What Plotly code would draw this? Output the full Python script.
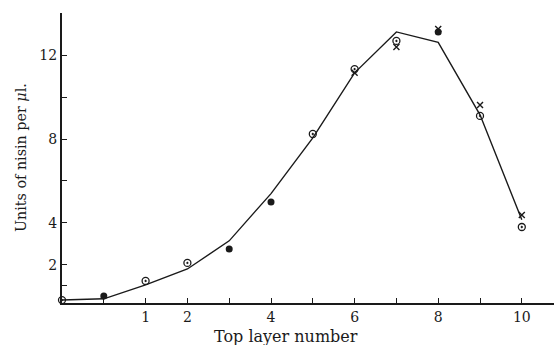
import plotly.graph_objects as go

# Top layer number (x = -1 is the origin point at the axis)
layers = [-1, 0, 1, 2, 3, 4, 5, 6, 7, 8, 9, 10]
curve_y = [0.33, 0.39, 1.05, 1.81, 3.15, 5.4, 8.05, 11.15, 13.1, 12.6, 9.15, 4.15]

open_x = [-1, 1, 2, 5, 6, 7, 9, 10]
open_y = [0.33, 1.24, 2.1, 8.24, 11.33, 12.67, 9.1, 3.81]

filled_x = [0, 3, 4, 8]
filled_y = [0.52, 2.76, 5.0, 13.1]

cross_x = [6, 7, 8, 9, 10]
cross_y = [11.15, 12.38, 13.24, 9.62, 4.38]

x_tickvals = [0, 1, 2, 3, 4, 5, 6, 7, 8, 9, 10]
x_ticktext = ["", "1", "2", "", "4", "", "6", "", "8", "", "10"]
y_tickvals = [1, 2, 4, 6, 8, 10, 12]
y_ticktext = ["", "2", "4", "", "8", "", "12"]

x_title = "Top layer number"
y_title = "Units of nisin per <i>μ</i>l."

ink = "#1a1a1a"
font = "DejaVu Serif"

fig = go.Figure()
fig.add_trace(go.Scatter(x=layers, y=curve_y, mode="lines",
                         line=dict(color=ink, width=1.4), cliponaxis=False))
fig.add_trace(go.Scatter(x=cross_x, y=cross_y, mode="markers", cliponaxis=False,
                         marker=dict(symbol="x-thin-open", size=6, color=ink,
                                     line=dict(color=ink, width=1.4))))
fig.add_trace(go.Scatter(x=open_x, y=open_y, mode="markers", cliponaxis=False,
                         marker=dict(symbol="circle-open-dot", size=7, color=ink,
                                     line=dict(color=ink, width=1.3))))
fig.add_trace(go.Scatter(x=filled_x, y=filled_y, mode="markers", cliponaxis=False,
                         marker=dict(symbol="circle", size=7, color=ink)))

fig.update_layout(
    width=554, height=345,
    margin=dict(l=62, r=0, t=13, b=42, autoexpand=False),
    paper_bgcolor="white", plot_bgcolor="white",
    showlegend=False,
    font=dict(family=font, color=ink, size=13),
    xaxis=dict(range=[-1, 10.77], showgrid=False, zeroline=False, automargin=False,
               showline=True, linecolor=ink, linewidth=2,
               tickmode="array", tickvals=x_tickvals, ticktext=x_ticktext,
               ticks="inside", ticklen=5, tickcolor=ink, tickwidth=1,
               tickfont=dict(size=14, family=font)),
    yaxis=dict(range=[0.19, 14], showgrid=False, zeroline=False, automargin=False,
               showline=True, linecolor=ink, linewidth=2,
               tickmode="array", tickvals=y_tickvals, ticktext=y_ticktext,
               ticks="inside", ticklen=5, tickcolor=ink, tickwidth=1,
               tickfont=dict(size=14, family=font)),
    annotations=[
        dict(text=x_title, xref="paper", yref="paper", x=(286 - 62) / 492, y=(303 - 336) / 290,
             showarrow=False, font=dict(size=16, family=font, color=ink),
             xanchor="center", yanchor="middle"),
        dict(text=y_title, xref="paper", yref="paper", x=(21 - 62) / 492, y=(303 - 158) / 290,
             showarrow=False, textangle=-90, font=dict(size=14.3, family=font, color=ink),
             xanchor="center", yanchor="middle"),
    ],
)

fig.write_html("out.html", config={"displayModeBar": False},
               post_script="document.body.style.margin='0';document.body.style.overflow='hidden';")
